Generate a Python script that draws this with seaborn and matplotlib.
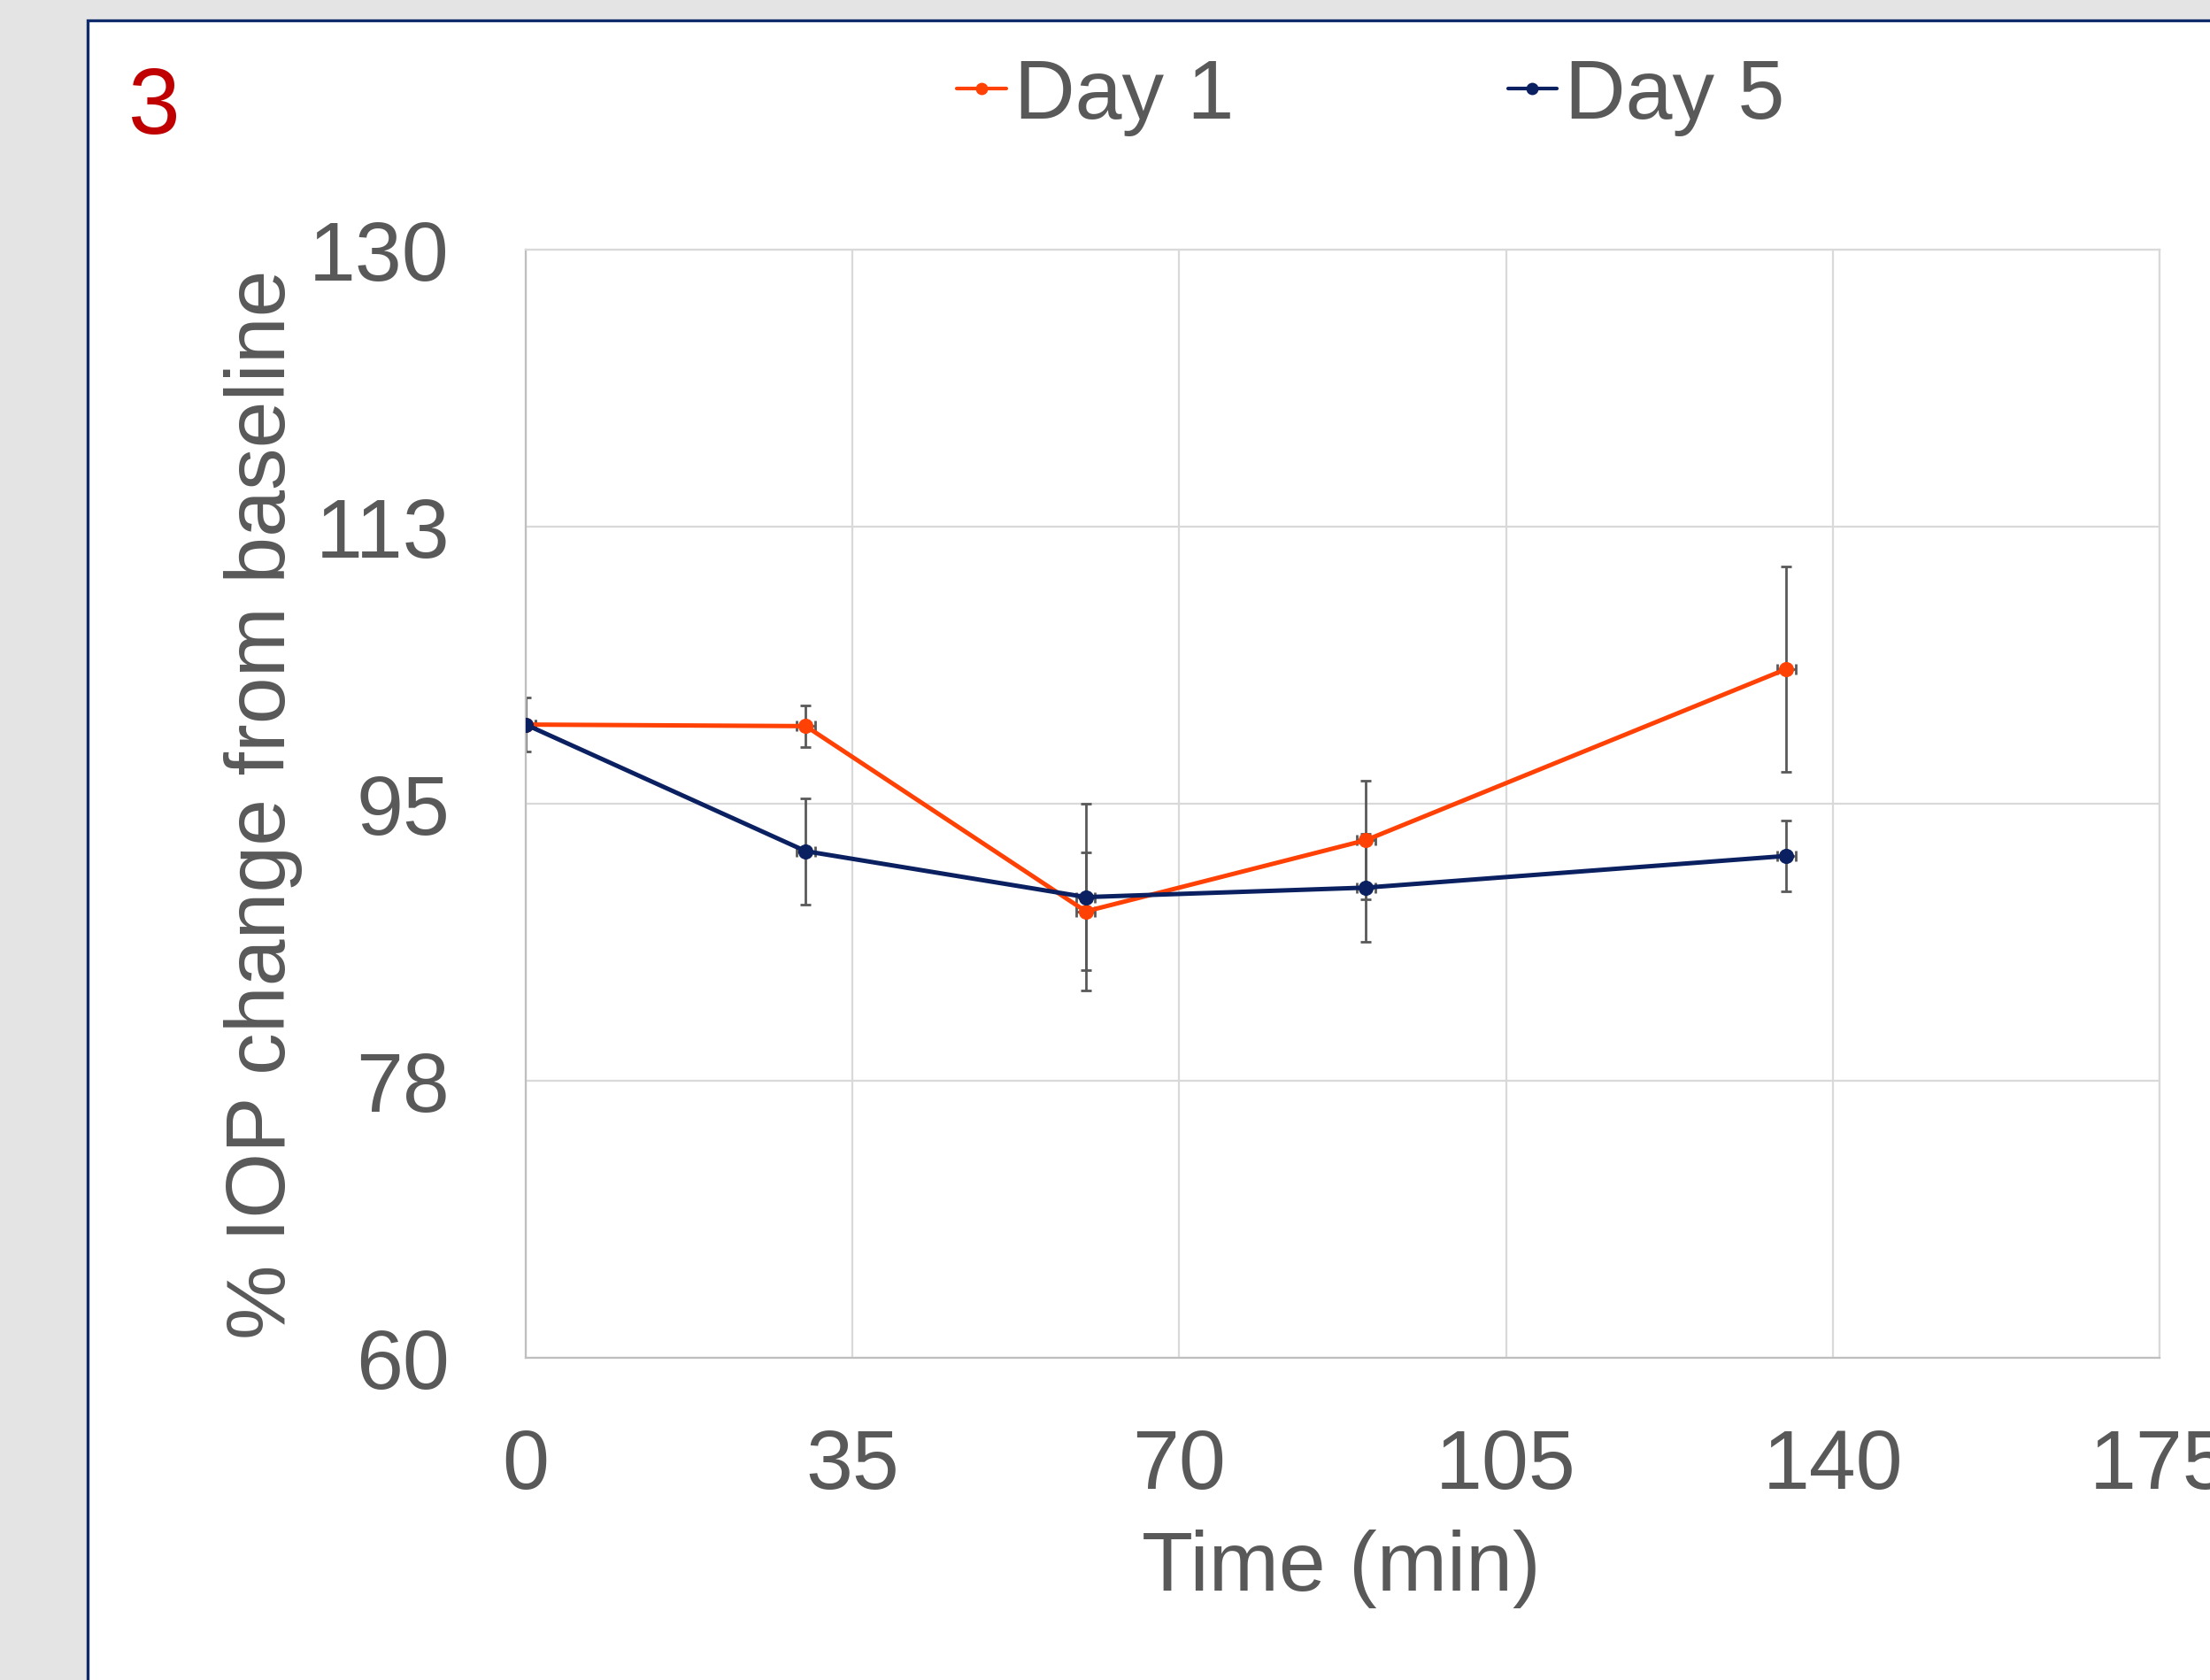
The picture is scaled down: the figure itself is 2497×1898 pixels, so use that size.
import matplotlib
matplotlib.use("Agg")
import matplotlib.pyplot as plt
from matplotlib.patches import Rectangle
from matplotlib.lines import Line2D
import numpy as np
import pandas as pd
import seaborn as sns

# Sampling times (min)
time_min = [0, 30, 60, 90, 135]
time_err = [1, 1, 1, 1, 1]

# Mean % IOP relative to baseline
day1 = [100.0, 99.9, 88.2, 92.7, 103.5]
day5 = [100.0, 92.0, 89.1, 89.7, 91.7]

# Error bar half-widths
day1_err = [0.0, 1.3, 3.7, 3.75, 6.5]
day5_err = [1.7, 3.35, 5.9, 3.4, 2.25]

series_names = ["Day 1", "Day 5"]
series_colors = {"Day 1": "#ff4105", "Day 5": "#0a2060"}

y_ticks = [60, 77.5, 95, 112.5, 130]
y_tick_labels = ["60", "78", "95", "113", "130"]
x_ticks = [0, 35, 70, 105, 140, 175]

df = pd.DataFrame({
    "Time (min)": time_min * 2,
    "IOP": day1 + day5,
    "Series": ["Day 1"] * len(time_min) + ["Day 5"] * len(time_min),
})

sns.set_theme(style="whitegrid")
plt.rcParams["font.family"] = ["Liberation Sans", "DejaVu Sans"]

TEXT = "#595959"
FS = 68.5
W, H, DPI = 2497, 1899, 100
fig = plt.figure(figsize=(W / DPI, H / DPI), dpi=DPI)
fig.patch.set_facecolor("#e4e4e4")

# White panel with a navy frame along its top and left edges
panel = Rectangle((98.5 / W, -0.05), 1.2, (H - 23.5) / H + 0.05,
                  transform=fig.transFigure, facecolor="white",
                  edgecolor="#0f2b6c", linewidth=2.4, zorder=-1)
fig.add_artist(panel)

ax = fig.add_axes([594 / W, 1 - 1535 / H, 1846 / W, 1252 / H])
ax.set_facecolor("white")

# Series lines with circular markers
sns.lineplot(data=df, x="Time (min)", y="IOP", hue="Series",
             hue_order=series_names, palette=series_colors,
             marker="o", markersize=11.5, linewidth=3.6,
             legend=False, ax=ax, zorder=3)
for line, name in zip(list(ax.lines), series_names):
    line.set_markersize(11.5)
    line.set_markeredgewidth(0.8)
    line.set_markeredgecolor(series_colors[name])
    line.set_markerfacecolor(series_colors[name])

# Error bars (drawn beneath the lines and markers)
for vals, errs in [(day1, day1_err), (day5, day5_err)]:
    ax.errorbar(time_min, vals, yerr=errs, xerr=time_err, fmt="none",
                ecolor=TEXT, elinewidth=2.0, capsize=4.2, capthick=2.0,
                zorder=2)

ax.set_xlim(0, 175)
ax.set_ylim(60, 130)
ax.set_xticks(x_ticks)
ax.set_yticks(y_ticks)
ax.set_yticklabels(y_tick_labels)

ax.grid(True, color="#d9d9d9", linewidth=1.6)
ax.set_axisbelow(True)
for side, spine in ax.spines.items():
    spine.set_visible(True)
    spine.set_linewidth(1.6)
    spine.set_color("#d9d9d9")
ax.spines["left"].set_color("#bfbfbf")
ax.spines["bottom"].set_color("#bfbfbf")

ax.tick_params(axis="both", length=0, labelsize=FS, labelcolor=TEXT)
ax.tick_params(axis="y", pad=62)
ax.tick_params(axis="x", pad=56)

ax.set_xlabel("Time (min)", fontsize=FS, color=TEXT)
ax.set_ylabel("% IOP change from baseline", fontsize=FS, color=TEXT)
ax.xaxis.set_label_coords(0.499, -0.1542)
ax.yaxis.set_label_coords(-0.1365, 0.5)

handles = [Line2D([], [], color=series_colors[n], linewidth=3.0, marker="o",
                  markersize=9, markeredgecolor=series_colors[n])
           for n in series_names]
leg = fig.legend(handles, series_names, loc="center",
                 bbox_to_anchor=(1549 / W, 1 - 110 / H), ncol=2,
                 frameon=False, fontsize=FS, handlelength=0.58,
                 handletextpad=0.1, columnspacing=3.25, borderpad=0,
                 borderaxespad=0)
for t in leg.get_texts():
    t.set_color(TEXT)

fig.text(145 / W, 1 - 150.5 / H, "3", fontsize=76, color="#c00000",
         ha="left", va="baseline")

fig.savefig("out.png", dpi=DPI, facecolor=fig.get_facecolor())
